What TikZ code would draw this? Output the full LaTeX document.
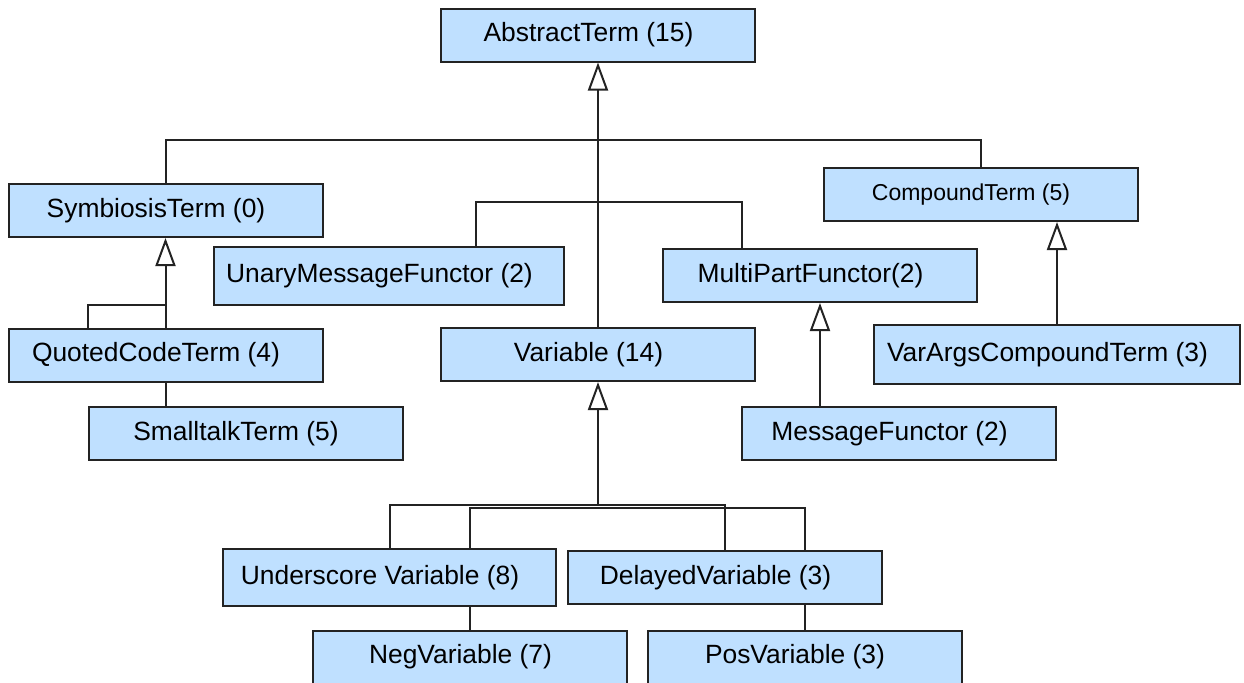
\documentclass[tikz,border=0pt]{standalone}
\usepackage{fontspec}
\setmainfont{Liberation Sans}
\usetikzlibrary{arrows.meta}

\definecolor{clsblue}{RGB}{191,224,255}
\definecolor{clsline}{RGB}{35,35,35}

\tikzset{
  cls/.style={draw=clsline, fill=clsblue, line width=1pt, inner sep=0pt,
    minimum width=157pt, minimum height=26.5pt,
    font=\fontsize{13.2pt}{15pt}\selectfont,
    execute at end node=\hspace*{9.5pt}},
  link/.style={draw=clsline, line width=1pt},
  gen/.style={link, -{Triangle[fill=white, length=14pt, width=10pt]}}
}

\begin{document}
\begin{tikzpicture}[x=0.5pt, y=-0.5pt]

\useasboundingbox (0,0) rectangle (1244,682);

% classes
\node[cls] (abs) at (598,35) {AbstractTerm (15)};
\node[cls] (sym) at (165.5,210.5) {SymbiosisTerm (0)};
\node[cls, font=\fontsize{11.5pt}{13pt}\selectfont] (cmp) at (980.5,194.5) {CompoundTerm (5)};
\node[cls, minimum width=175pt, minimum height=29pt] (una) at (389,276) {UnaryMessageFunctor (2)};
\node[cls] (mpf) at (820,275.5) {MultiPartFunctor(2)};
\node[cls] (quo) at (165.5,355) {QuotedCodeTerm (4)};
\node[cls] (var) at (598,354.5) {Variable (14)};
\node[cls, minimum width=183pt, minimum height=29.5pt] (vac) at (1057,354.5) {VarArgsCompoundTerm (3)};
\node[cls] (smt) at (245.5,433.5) {SmalltalkTerm (5)};
\node[cls] (msg) at (899,433.5) {MessageFunctor (2)};
\node[cls, minimum width=166.5pt, minimum height=28.5pt] (und) at (389.5,577.5) {Underscore Variable (8)};
\node[cls] (del) at (725,577.5) {DelayedVariable (3)};
\node[cls] (neg) at (470,657) {NegVariable (7)};
\node[cls] (pos) at (804.5,657) {PosVariable (3)};

% bars
\coordinate (topbar) at (598,140);
\coordinate (midbar) at (598,202);
\coordinate (symbar) at (165.5,305);
\coordinate (varbar) at (598,505);
\coordinate (varbarb) at (598,507.5);

% generalisations
\draw[gen] (var.north) -- (abs.south);
\draw[link] (sym.north) |- (topbar) -| (cmp.north);
\draw[link] ([shift={(87,0)}]una.north) |- (midbar) -| ([shift={(-78,0)}]mpf.north);

\draw[gen] (quo.north) -- (sym.south);
\draw[link] ([shift={(-77.5,0)}]quo.north) |- (symbar);
\draw[link] (quo.south) -- (quo.south |- smt.north);

\draw[gen] (msg.north -| mpf.south) -- (mpf.south);
\draw[gen] (vac.north) -- (vac.north |- cmp.south);

\draw[gen] (varbar) -- (var.south);
\draw[link] (und.north) |- (varbar) -| (del.north);
\draw[link] (neg.north |- und.north) |- (varbarb) -| (pos.north |- del.north);
\draw[link] (neg.north |- und.south) -- (neg.north);
\draw[link] (pos.north |- del.south) -- (pos.north);

\end{tikzpicture}
\end{document}
